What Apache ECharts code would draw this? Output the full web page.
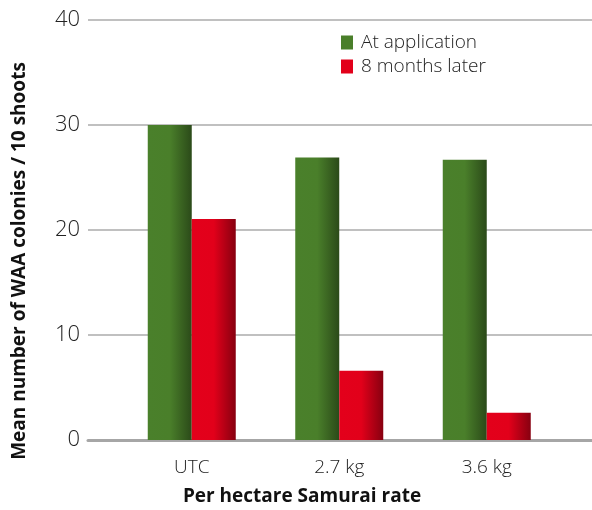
<!DOCTYPE html>
<html><head><meta charset="utf-8">
<script src="https://cdn.jsdelivr.net/npm/echarts@6/dist/echarts.min.js"></script>
<style>html,body{margin:0;padding:0;background:#fff}#c{width:592px;height:510px}</style>
</head><body><div id="c"></div>
<script>
const categories = ['UTC', '2.7 kg', '3.6 kg'];
const atApplication = [30.0, 26.9, 26.7];
const monthsLater = [21.05, 6.6, 2.6];
const yTicks = [0, 10, 20, 30, 40];
const seriesNames = ['At application', '8 months later'];

const F = "'Open Sans', 'Noto Sans', sans-serif";
const greenGrad = {type:'linear',x:0,y:0,x2:1,y2:0,colorStops:[
  {offset:0,color:'#4a802b'},{offset:0.5,color:'#4a7f2a'},{offset:1,color:'#2b4a19'}]};
const redGrad = {type:'linear',x:0,y:0,x2:1,y2:0,colorStops:[
  {offset:0,color:'#e3001b'},{offset:0.5,color:'#e2001a'},{offset:1,color:'#870010'}]};

const chart = echarts.init(document.getElementById('c'), null, {renderer:'canvas'});
chart.setOption({
  animation:false,
  grid:[
    {left:88, right:0, top:20, bottom:70},
    {left:118, width:442.5, top:20, bottom:70}
  ],
  xAxis:[
    {gridIndex:0, type:'value', min:0, max:1, show:true,
     axisLine:{show:true, onZero:false, lineStyle:{color:'#a6a6a6', width:3}},
     axisTick:{show:false}, axisLabel:{show:false}, splitLine:{show:false}},
    {gridIndex:1, type:'category', data:categories,
     axisLine:{show:false}, axisTick:{show:false},
     axisLabel:{color:'#222', fontFamily:F, fontWeight:300, fontSize:19, margin:18}}
  ],
  yAxis:[
    {gridIndex:0, type:'value', min:0, max:40, interval:10,
     axisLine:{show:false}, axisTick:{show:false},
     axisLabel:{color:'#222', fontFamily:F, fontWeight:300, fontSize:22, margin:8},
     splitLine:{lineStyle:{color:'#ababab', width:1.5}}},
    {gridIndex:1, type:'value', min:0, max:40, interval:10, show:false, splitLine:{show:false}}
  ],
  series:[
    {name:seriesNames[0], type:'bar', xAxisIndex:1, yAxisIndex:1, data:atApplication,
     barWidth:44, barGap:'0%', itemStyle:{color:greenGrad}},
    {name:seriesNames[1], type:'bar', xAxisIndex:1, yAxisIndex:1, data:monthsLater,
     barWidth:44, barGap:'0%', itemStyle:{color:redGrad}}
  ],
  legend:{show:true, left:336, top:28, orient:'vertical', itemGap:5,
    itemWidth:12, itemHeight:14, icon:'rect',
    textStyle:{color:'#222', fontFamily:F, fontWeight:300, fontSize:19, padding:[0,0,0,3]},
    data:[{name:seriesNames[0], itemStyle:{color:'#4a7f2a'}},{name:seriesNames[1], itemStyle:{color:'#e2001a'}}]},
  graphic:[
    {type:'text', x:302, y:497, style:{text:'Per hectare Samurai rate', fontFamily:F, fontWeight:'bold',
      fontSize:19, fill:'#111', align:'center', verticalAlign:'middle'}},
    {type:'text', x:20, y:261, rotation:Math.PI/2, style:{text:'Mean number of WAA colonies / 10 shoots',
      fontFamily:F, fontWeight:'bold', fontSize:19, fill:'#111', align:'center', verticalAlign:'middle'}}
  ]
});
</script></body></html>
